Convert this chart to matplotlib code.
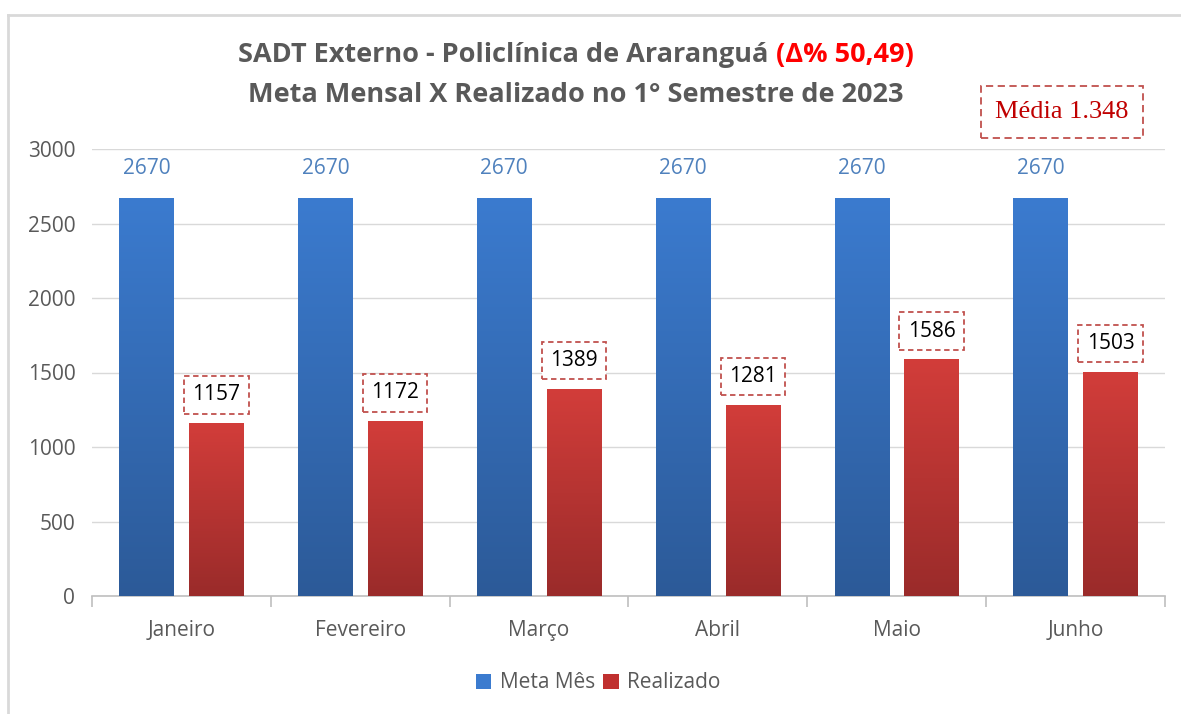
import matplotlib
matplotlib.use("Agg")
import matplotlib.pyplot as plt
import numpy as np
from matplotlib.colors import LinearSegmentedColormap
from matplotlib.lines import Line2D
from matplotlib.patches import Patch

months = ["Janeiro", "Fevereiro", "Março", "Abril", "Maio", "Junho"]
meta = [2670, 2670, 2670, 2670, 2670, 2670]
realizado = [1157, 1172, 1389, 1281, 1586, 1503]
yticks = [0, 500, 1000, 1500, 2000, 2500, 3000]

plt.rcParams['font.family'] = ['Open Sans', 'DejaVu Sans']

W, H = 1181, 714
fig = plt.figure(figsize=(W / 100, H / 100), dpi=100)
ax = fig.add_axes([92 / W, 1 - 596 / H, (1165 - 92) / W, (596 - 149) / H])

blue_cmap = LinearSegmentedColormap.from_list("b", ["#2C5A98", "#3B7BCF"])
red_cmap = LinearSegmentedColormap.from_list("r", ["#9A2B2A", "#D23D3A"])
grad = np.linspace(0, 1, 256).reshape(-1, 1)

x = np.arange(len(months))
bw = 0.305
off = 0.195
for xi, m, r in zip(x, meta, realizado):
    ax.imshow(grad, extent=[xi - off - bw / 2, xi - off + bw / 2, 0, m], origin="lower",
              cmap=blue_cmap, aspect="auto", zorder=3)
    ax.imshow(grad, extent=[xi + off - bw / 2, xi + off + bw / 2, 0, r], origin="lower",
              cmap=red_cmap, aspect="auto", zorder=3)
    ax.text(xi - off, 2870, f"{m}", ha="center", va="center", fontsize=15,
            color="#4F81BD", zorder=4)
    ax.text(xi + off, r + 192, f"{r}", ha="center", va="center", fontsize=15,
            color="black", zorder=4,
            bbox=dict(boxstyle="square,pad=0.4", fc="white", ec="#C0504D",
                      ls=(0, (3, 2)), lw=1.3))

ax.set_xlim(-0.5, len(months) - 0.5)
ax.set_ylim(0, 3000)
ax.set_yticks(yticks)
ax.set_yticklabels([str(v) for v in yticks])
ax.set_xticks(x)
ax.set_xticklabels(months)
ax.grid(axis="y", color="#D9D9D9", lw=1, zorder=0)
ax.set_axisbelow(True)
for s in ["top", "right", "left"]:
    ax.spines[s].set_visible(False)
ax.spines["bottom"].set_color("#BFBFBF")
ax.spines["bottom"].set_linewidth(1.2)
ax.tick_params(axis="y", length=0, labelsize=15, labelcolor="#595959", pad=12)
ax.tick_params(axis="x", length=0, labelsize=15, labelcolor="#595959", pad=17)
ax.set_xticks(np.arange(-0.5, len(months)), minor=True)
ax.tick_params(axis="x", which="minor", length=8, color="#BFBFBF", width=1.2)

# title
cx = 576 / W
t1 = fig.text(0, 1 - 55 / H, "SADT Externo - Policlínica de Araranguá ", ha="left", va="center",
              fontsize=19.5, fontweight="bold", color="#595959")
t2 = fig.text(0, 1 - 55 / H, "(Δ% 50,49)", ha="left", va="center",
              fontsize=19.5, fontweight="bold", color="#FF0000")
r = fig.canvas.get_renderer()
w1 = t1.get_window_extent(r).width / W
w2 = t2.get_window_extent(r).width / W
start = cx - (w1 + w2) / 2
t1.set_x(start)
t2.set_x(start + w1)
fig.text(cx, 1 - 95 / H, "Meta Mensal X Realizado no 1° Semestre de 2023", ha="center",
         va="center", fontsize=19.5, fontweight="bold", color="#595959")

# Média box
fig.text(1062 / W, 1 - 112 / H, "Média 1.348", ha="center", va="center", fontsize=19,
         family="Liberation Serif", color="#C00000",
         bbox=dict(boxstyle="square,pad=0.55", fc="white", ec="#C0504D", ls=(0, (4, 2.5)), lw=1.3))

# legend
handles = [Patch(fc="#3B7BCF", ec="none"), Patch(fc="#C0302F", ec="none")]
fig.legend(handles, ["Meta Mês", "Realizado"], loc="center", bbox_to_anchor=(598 / W, 1 - 683 / H),
           ncol=2, frameon=False, fontsize=15, handlelength=0.75, handleheight=0.75,
           handletextpad=0.4, columnspacing=0.4, labelcolor="#595959")

# outer border
fig.add_artist(Line2D([7.5 / W, 7.5 / W], [0, 1 - 14.5 / H], transform=fig.transFigure,
                      color="#D9D9D9", lw=2))
fig.add_artist(Line2D([7.5 / W, 1], [1 - 14.5 / H, 1 - 14.5 / H], transform=fig.transFigure,
                      color="#D9D9D9", lw=2))

fig.savefig("out.png", dpi=100, facecolor="white")
